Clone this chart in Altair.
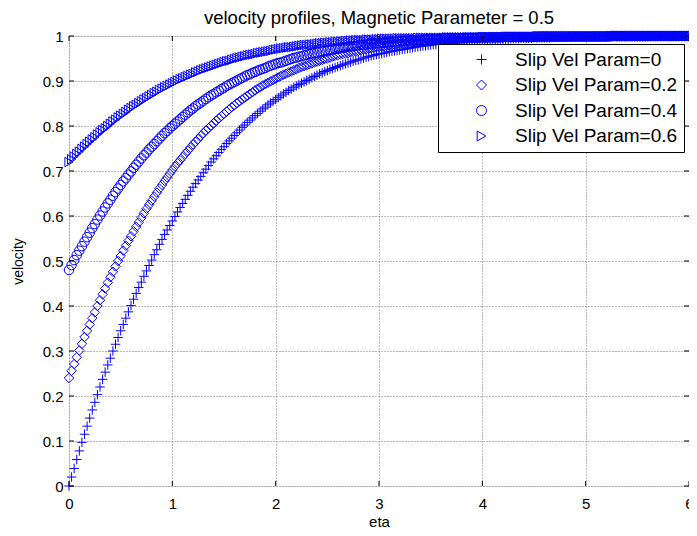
import altair as alt
import pandas as pd

ETA = [
    0.000, 0.025, 0.050, 0.075, 0.100, 0.125, 0.150, 0.175, 0.200, 0.225,
    0.250, 0.275, 0.300, 0.325, 0.350, 0.375, 0.400, 0.425, 0.450, 0.475,
    0.500, 0.525, 0.550, 0.575, 0.600, 0.625, 0.650, 0.675, 0.700, 0.725,
    0.750, 0.775, 0.800, 0.825, 0.850, 0.875, 0.900, 0.925, 0.950, 0.975,
    1.000, 1.025, 1.050, 1.075, 1.100, 1.125, 1.150, 1.175, 1.200, 1.225,
    1.250, 1.275, 1.300, 1.325, 1.350, 1.375, 1.400, 1.425, 1.450, 1.475,
    1.500, 1.525, 1.550, 1.575, 1.600, 1.625, 1.650, 1.675, 1.700, 1.725,
    1.750, 1.775, 1.800, 1.825, 1.850, 1.875, 1.900, 1.925, 1.950, 1.975,
    2.000, 2.025, 2.050, 2.075, 2.100, 2.125, 2.150, 2.175, 2.200, 2.225,
    2.250, 2.275, 2.300, 2.325, 2.350, 2.375, 2.400, 2.425, 2.450, 2.475,
    2.500, 2.525, 2.550, 2.575, 2.600, 2.625, 2.650, 2.675, 2.700, 2.725,
    2.750, 2.775, 2.800, 2.825, 2.850, 2.875, 2.900, 2.925, 2.950, 2.975,
    3.000, 3.025, 3.050, 3.075, 3.100, 3.125, 3.150, 3.175, 3.200, 3.225,
    3.250, 3.275, 3.300, 3.325, 3.350, 3.375, 3.400, 3.425, 3.450, 3.475,
    3.500, 3.525, 3.550, 3.575, 3.600, 3.625, 3.650, 3.675, 3.700, 3.725,
    3.750, 3.775, 3.800, 3.825, 3.850, 3.875, 3.900, 3.925, 3.950, 3.975,
    4.000, 4.025, 4.050, 4.075, 4.100, 4.125, 4.150, 4.175, 4.200, 4.225,
    4.250, 4.275, 4.300, 4.325, 4.350, 4.375, 4.400, 4.425, 4.450, 4.475,
    4.500, 4.525, 4.550, 4.575, 4.600, 4.625, 4.650, 4.675, 4.700, 4.725,
    4.750, 4.775, 4.800, 4.825, 4.850, 4.875, 4.900, 4.925, 4.950, 4.975,
    5.000, 5.025, 5.050, 5.075, 5.100, 5.125, 5.150, 5.175, 5.200, 5.225,
    5.250, 5.275, 5.300, 5.325, 5.350, 5.375, 5.400, 5.425, 5.450, 5.475,
    5.500, 5.525, 5.550, 5.575, 5.600, 5.625, 5.650, 5.675, 5.700, 5.725,
    5.750, 5.775, 5.800, 5.825, 5.850, 5.875, 5.900, 5.925, 5.950, 5.975,
    6.000,
]

VEL_SLIP_0 = [
    0.000, 0.020, 0.039, 0.059, 0.078, 0.097, 0.115, 0.133, 0.151, 0.169,
    0.186, 0.203, 0.220, 0.237, 0.253, 0.269, 0.284, 0.300, 0.315, 0.330,
    0.345, 0.359, 0.373, 0.387, 0.401, 0.415, 0.428, 0.441, 0.453, 0.466,
    0.478, 0.490, 0.502, 0.514, 0.525, 0.537, 0.548, 0.559, 0.569, 0.579,
    0.589, 0.599, 0.609, 0.619, 0.628, 0.637, 0.646, 0.655, 0.664, 0.672,
    0.680, 0.688, 0.696, 0.704, 0.712, 0.720, 0.727, 0.734, 0.741, 0.748,
    0.754, 0.761, 0.767, 0.773, 0.779, 0.785, 0.791, 0.797, 0.802, 0.808,
    0.813, 0.818, 0.823, 0.828, 0.833, 0.838, 0.842, 0.847, 0.851, 0.855,
    0.859, 0.863, 0.867, 0.871, 0.875, 0.879, 0.882, 0.886, 0.889, 0.892,
    0.895, 0.898, 0.901, 0.904, 0.907, 0.910, 0.913, 0.916, 0.918, 0.921,
    0.923, 0.926, 0.928, 0.930, 0.932, 0.934, 0.936, 0.938, 0.940, 0.942,
    0.944, 0.946, 0.947, 0.949, 0.951, 0.953, 0.954, 0.956, 0.957, 0.959,
    0.960, 0.961, 0.962, 0.964, 0.965, 0.966, 0.967, 0.968, 0.969, 0.970,
    0.971, 0.972, 0.973, 0.974, 0.975, 0.976, 0.977, 0.978, 0.978, 0.979,
    0.980, 0.981, 0.981, 0.982, 0.983, 0.984, 0.984, 0.985, 0.985, 0.986,
    0.986, 0.987, 0.987, 0.988, 0.988, 0.989, 0.989, 0.990, 0.990, 0.990,
    0.990, 0.991, 0.991, 0.992, 0.992, 0.992, 0.992, 0.993, 0.993, 0.993,
    0.993, 0.994, 0.994, 0.994, 0.994, 0.995, 0.995, 0.995, 0.995, 0.995,
    0.996, 0.996, 0.996, 0.996, 0.996, 0.996, 0.996, 0.997, 0.997, 0.997,
    0.997, 0.997, 0.997, 0.998, 0.998, 0.998, 0.998, 0.998, 0.998, 0.998,
    0.998, 0.998, 0.998, 0.998, 0.999, 0.999, 0.999, 0.999, 0.999, 0.999,
    0.999, 0.999, 0.999, 0.999, 0.999, 0.999, 0.999, 0.999, 0.999, 0.999,
    0.999, 0.999, 0.999, 0.999, 0.999, 0.999, 0.999, 0.999, 0.999, 0.999,
    0.999, 0.999, 0.999, 0.999, 1.000, 1.000, 1.000, 1.000, 1.000, 1.000,
    1.000,
]

VEL_SLIP_02 = [
    0.240, 0.256, 0.271, 0.286, 0.301, 0.316, 0.331, 0.345, 0.359, 0.373,
    0.386, 0.400, 0.413, 0.426, 0.439, 0.452, 0.464, 0.476, 0.488, 0.500,
    0.511, 0.523, 0.534, 0.545, 0.555, 0.566, 0.576, 0.586, 0.596, 0.606,
    0.616, 0.625, 0.634, 0.643, 0.652, 0.661, 0.669, 0.678, 0.686, 0.694,
    0.702, 0.710, 0.717, 0.724, 0.731, 0.738, 0.745, 0.752, 0.759, 0.765,
    0.771, 0.778, 0.784, 0.790, 0.795, 0.801, 0.806, 0.812, 0.817, 0.822,
    0.827, 0.832, 0.837, 0.842, 0.846, 0.851, 0.855, 0.859, 0.863, 0.867,
    0.871, 0.875, 0.879, 0.883, 0.886, 0.890, 0.893, 0.896, 0.899, 0.902,
    0.905, 0.908, 0.911, 0.914, 0.916, 0.919, 0.921, 0.924, 0.926, 0.929,
    0.931, 0.933, 0.935, 0.937, 0.939, 0.941, 0.943, 0.945, 0.947, 0.949,
    0.950, 0.952, 0.954, 0.956, 0.957, 0.959, 0.960, 0.961, 0.962, 0.964,
    0.965, 0.966, 0.967, 0.969, 0.970, 0.971, 0.972, 0.973, 0.974, 0.975,
    0.976, 0.977, 0.977, 0.978, 0.979, 0.980, 0.980, 0.981, 0.982, 0.983,
    0.983, 0.984, 0.984, 0.985, 0.985, 0.986, 0.987, 0.988, 0.988, 0.989,
    0.989, 0.989, 0.989, 0.990, 0.990, 0.991, 0.991, 0.992, 0.992, 0.992,
    0.992, 0.993, 0.993, 0.993, 0.993, 0.994, 0.994, 0.994, 0.994, 0.995,
    0.995, 0.995, 0.995, 0.996, 0.996, 0.996, 0.996, 0.996, 0.996, 0.997,
    0.997, 0.997, 0.997, 0.997, 0.997, 0.997, 0.997, 0.997, 0.997, 0.997,
    0.998, 0.998, 0.998, 0.998, 0.998, 0.998, 0.998, 0.998, 0.998, 0.998,
    0.998, 0.998, 0.998, 0.998, 0.998, 0.999, 0.999, 0.999, 0.999, 0.999,
    0.999, 0.999, 0.999, 0.999, 0.999, 0.999, 0.999, 0.999, 0.999, 0.999,
    0.999, 0.999, 0.999, 0.999, 0.999, 0.999, 0.999, 0.999, 0.999, 0.999,
    0.999, 0.999, 0.999, 0.999, 0.999, 1.000, 1.000, 1.000, 1.000, 1.000,
    1.000, 1.000, 1.000, 1.000, 1.000, 1.000, 1.000, 1.000, 1.000, 1.000,
    1.000,
]

VEL_SLIP_04 = [
    0.480, 0.491, 0.502, 0.513, 0.523, 0.533, 0.543, 0.553, 0.563, 0.573,
    0.582, 0.592, 0.601, 0.610, 0.619, 0.628, 0.636, 0.645, 0.653, 0.661,
    0.669, 0.677, 0.684, 0.692, 0.699, 0.707, 0.714, 0.721, 0.728, 0.735,
    0.741, 0.748, 0.754, 0.760, 0.766, 0.772, 0.778, 0.784, 0.789, 0.795,
    0.800, 0.805, 0.810, 0.815, 0.820, 0.825, 0.830, 0.835, 0.839, 0.844,
    0.848, 0.852, 0.856, 0.860, 0.864, 0.868, 0.871, 0.875, 0.878, 0.882,
    0.885, 0.889, 0.892, 0.895, 0.898, 0.901, 0.904, 0.907, 0.910, 0.913,
    0.915, 0.918, 0.920, 0.923, 0.925, 0.927, 0.929, 0.932, 0.934, 0.936,
    0.938, 0.940, 0.941, 0.943, 0.945, 0.947, 0.949, 0.951, 0.952, 0.954,
    0.955, 0.957, 0.958, 0.960, 0.961, 0.962, 0.963, 0.965, 0.966, 0.967,
    0.968, 0.969, 0.970, 0.971, 0.972, 0.973, 0.974, 0.975, 0.976, 0.977,
    0.977, 0.978, 0.979, 0.980, 0.980, 0.981, 0.982, 0.983, 0.983, 0.984,
    0.984, 0.985, 0.985, 0.986, 0.986, 0.987, 0.987, 0.988, 0.988, 0.989,
    0.989, 0.990, 0.990, 0.990, 0.990, 0.991, 0.991, 0.992, 0.992, 0.993,
    0.993, 0.993, 0.993, 0.994, 0.994, 0.994, 0.994, 0.995, 0.995, 0.995,
    0.995, 0.995, 0.995, 0.996, 0.996, 0.996, 0.996, 0.996, 0.996, 0.997,
    0.997, 0.997, 0.997, 0.997, 0.997, 0.997, 0.997, 0.997, 0.998, 0.998,
    0.998, 0.998, 0.998, 0.998, 0.998, 0.998, 0.998, 0.998, 0.998, 0.998,
    0.999, 0.999, 0.999, 0.999, 0.999, 0.999, 0.999, 0.999, 0.999, 0.999,
    0.999, 0.999, 0.999, 0.999, 0.999, 0.999, 0.999, 0.999, 0.999, 0.999,
    0.999, 0.999, 0.999, 0.999, 0.999, 0.999, 0.999, 0.999, 0.999, 0.999,
    1.000, 1.000, 1.000, 1.000, 1.000, 1.000, 1.000, 1.000, 1.000, 1.000,
    1.000, 1.000, 1.000, 1.000, 1.000, 1.000, 1.000, 1.000, 1.000, 1.000,
    1.000, 1.000, 1.000, 1.000, 1.000, 1.000, 1.000, 1.000, 1.000, 1.000,
    1.000,
]

VEL_SLIP_06 = [
    0.720, 0.726, 0.732, 0.738, 0.743, 0.749, 0.754, 0.760, 0.765, 0.770,
    0.775, 0.781, 0.786, 0.791, 0.795, 0.800, 0.805, 0.810, 0.814, 0.819,
    0.823, 0.827, 0.831, 0.836, 0.840, 0.844, 0.847, 0.851, 0.855, 0.859,
    0.862, 0.866, 0.869, 0.873, 0.876, 0.880, 0.883, 0.886, 0.889, 0.892,
    0.895, 0.898, 0.901, 0.904, 0.906, 0.909, 0.911, 0.914, 0.916, 0.919,
    0.921, 0.924, 0.926, 0.928, 0.930, 0.932, 0.934, 0.936, 0.938, 0.940,
    0.942, 0.944, 0.945, 0.947, 0.949, 0.951, 0.952, 0.954, 0.955, 0.957,
    0.958, 0.959, 0.960, 0.962, 0.963, 0.964, 0.965, 0.966, 0.967, 0.969,
    0.970, 0.971, 0.972, 0.973, 0.974, 0.975, 0.975, 0.976, 0.977, 0.978,
    0.979, 0.980, 0.980, 0.981, 0.981, 0.982, 0.983, 0.984, 0.984, 0.985,
    0.985, 0.986, 0.986, 0.987, 0.987, 0.988, 0.988, 0.989, 0.989, 0.990,
    0.990, 0.991, 0.991, 0.991, 0.991, 0.992, 0.992, 0.992, 0.992, 0.993,
    0.993, 0.994, 0.994, 0.994, 0.994, 0.994, 0.994, 0.995, 0.995, 0.995,
    0.995, 0.995, 0.995, 0.995, 0.995, 0.996, 0.996, 0.996, 0.996, 0.996,
    0.996, 0.996, 0.996, 0.996, 0.996, 0.996, 0.997, 0.997, 0.997, 0.997,
    0.997, 0.997, 0.997, 0.997, 0.997, 0.997, 0.997, 0.997, 0.997, 0.997,
    0.998, 0.998, 0.998, 0.998, 0.998, 0.998, 0.998, 0.998, 0.998, 0.998,
    0.998, 0.998, 0.998, 0.998, 0.998, 0.998, 0.998, 0.998, 0.998, 0.998,
    0.998, 0.998, 0.998, 0.998, 0.999, 0.999, 0.999, 0.999, 0.999, 0.999,
    0.999, 0.999, 0.999, 0.999, 0.999, 0.999, 0.999, 0.999, 0.999, 0.999,
    0.999, 0.999, 0.999, 0.999, 0.999, 0.999, 0.999, 0.999, 0.999, 0.999,
    1.000, 1.000, 1.000, 1.000, 1.000, 1.000, 1.000, 1.000, 1.000, 1.000,
    1.000, 1.000, 1.000, 1.000, 1.000, 1.000, 1.000, 1.000, 1.000, 1.000,
    1.000, 1.000, 1.000, 1.000, 1.000, 1.000, 1.000, 1.000, 1.000, 1.000,
    1.000,
]

SERIES_LABELS = [
    "Slip Vel Param=0",
    "Slip Vel Param=0.2",
    "Slip Vel Param=0.4",
    "Slip Vel Param=0.6",
]
SERIES_VALUES = [VEL_SLIP_0, VEL_SLIP_02, VEL_SLIP_04, VEL_SLIP_06]

X_TICKS = [0, 1, 2, 3, 4, 5, 6]
Y_TICKS = [0, 0.1, 0.2, 0.3, 0.4, 0.5, 0.6, 0.7, 0.8, 0.9, 1]

TITLE = "velocity profiles, Magnetic Parameter = 0.5"

rows = []
for label, values in zip(SERIES_LABELS, SERIES_VALUES):
    for e, v in zip(ETA, values):
        rows.append({"eta": e, "velocity": v, "series": label})
df = pd.DataFrame(rows)

xt = pd.DataFrame({"eta": X_TICKS})
yt = pd.DataFrame({"velocity": Y_TICKS})

W, H = 620, 450
FONT = "Liberation Sans"
BLUE = "#0000FF"
PLUS = "M-1,0L1,0M0,-1L0,1"

xscale = alt.Scale(domain=[0, 6], nice=False, zero=False)
yscale = alt.Scale(domain=[0, 1], nice=False, zero=False)

x_axis = alt.Axis(
    values=X_TICKS, title="eta", grid=True, gridDash=[1, 2], gridColor="#777777",
    gridOpacity=1, ticks=False, domain=False, labelFontSize=15, labelFont=FONT,
    labelColor="black", labelPadding=10, titleFontSize=15, titleFont=FONT,
    titleFontWeight="normal", titleColor="black", titlePadding=3,
    labelFlush=False,
)
y_axis = alt.Axis(
    values=Y_TICKS, title="velocity", grid=True, gridDash=[1, 2], gridColor="#777777",
    gridOpacity=1, ticks=False, domain=False, labelFontSize=15, labelFont=FONT,
    labelColor="black", labelPadding=6, titleFontSize=14, titleFont=FONT,
    titleFontWeight="normal", titleColor="black", titlePadding=17,
    labelExpr="datum.value + ''", labelFlush=False,
)

points = alt.Chart(df).mark_point(
    filled=False, size=90, strokeWidth=1, color=BLUE, opacity=1
).encode(
    x=alt.X("eta:Q", scale=xscale, axis=x_axis),
    y=alt.Y("velocity:Q", scale=yscale, axis=y_axis),
    shape=alt.Shape("series:N", scale=alt.Scale(
        domain=SERIES_LABELS, range=[PLUS, "diamond", "circle", "triangle-right"]
    ), legend=alt.Legend(
        title=None, orient="none", legendX=369, legendY=8,
        strokeColor="black", fillColor="white", padding=6, rowPadding=5.5,
        symbolOffset=28, labelOffset=24, labelFontSize=19, labelFont=FONT,
        labelColor="black", labelLimit=0, symbolSize=100, symbolStrokeWidth=1,
        symbolStrokeColor=BLUE, symbolFillColor="transparent", zindex=2,
        labelExpr="datum.label + '  '",
    )),
)

tick_len = 5
bottom_ticks = alt.Chart(xt).mark_rule(color="black", strokeWidth=1).encode(
    x=alt.X("eta:Q", scale=xscale, axis=x_axis), y=alt.value(H), y2=alt.value(H - tick_len))
top_ticks = alt.Chart(xt).mark_rule(color="black", strokeWidth=1).encode(
    x=alt.X("eta:Q", scale=xscale, axis=x_axis), y=alt.value(0), y2=alt.value(tick_len))
left_ticks = alt.Chart(yt).mark_rule(color="black", strokeWidth=1).encode(
    y=alt.Y("velocity:Q", scale=yscale, axis=y_axis), x=alt.value(0), x2=alt.value(tick_len))
right_ticks = alt.Chart(yt).mark_rule(color="black", strokeWidth=1).encode(
    y=alt.Y("velocity:Q", scale=yscale, axis=y_axis), x=alt.value(W), x2=alt.value(W - tick_len))

chart = alt.layer(
    points, bottom_ticks, top_ticks, left_ticks, right_ticks
).properties(
    width=W, height=H,
    title=alt.Title(TITLE, fontSize=18.5, font=FONT, fontWeight="normal", color="black",
                    anchor="middle", offset=2),
    padding={"left": 61, "top": 28, "right": 0, "bottom": 42},
    autosize=alt.AutoSizeParams(type="none"),
).configure_view(stroke="black", strokeWidth=1).configure(background="white")

chart.save("out.html", embed_options={"renderer": "svg", "actions": False})
